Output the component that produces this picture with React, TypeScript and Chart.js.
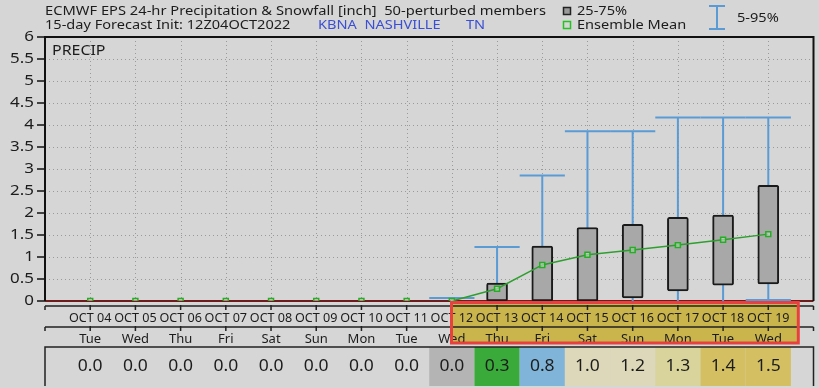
import React, { useEffect, useRef } from "react";
import { Chart, registerables } from "chart.js";

Chart.register(...registerables);

const dateLabels = ["OCT 04", "OCT 05", "OCT 06", "OCT 07", "OCT 08", "OCT 09", "OCT 10", "OCT 11", "OCT 12", "OCT 13", "OCT 14", "OCT 15", "OCT 16", "OCT 17", "OCT 18", "OCT 19"];
const dayLabels = ["Tue", "Wed", "Thu", "Fri", "Sat", "Sun", "Mon", "Tue", "Wed", "Thu", "Fri", "Sat", "Sun", "Mon", "Tue", "Wed"];
const meanValues = [0, 0, 0, 0, 0, 0, 0, 0, 0, 0.28, 0.82, 1.05, 1.16, 1.27, 1.39, 1.52];
const p25Values: (number | null)[] = [null, null, null, null, null, null, null, null, null, 0, 0, 0, 0.07, 0.23, 0.36, 0.39];
const p75Values: (number | null)[] = [null, null, null, null, null, null, null, null, null, 0.41, 1.25, 1.67, 1.74, 1.9, 1.95, 2.63];
const p5Values: (number | null)[] = [null, null, null, null, null, null, null, null, 0, 0, 0, 0, 0, 0, 0, 0.02];
const p95Values: (number | null)[] = [null, null, null, null, null, null, null, null, 0.07, 1.23, 2.85, 3.86, 3.86, 4.17, 4.17, 4.17];
const tableValues = ["0.0", "0.0", "0.0", "0.0", "0.0", "0.0", "0.0", "0.0", "0.0", "0.3", "0.8", "1.0", "1.2", "1.3", "1.4", "1.5"];
const yTickValues = [0, 0.5, 1, 1.5, 2, 2.5, 3, 3.5, 4, 4.5, 5, 5.5, 6];

const cellColors: (string | null)[] = [null, null, null, null, null, null, null, null, "#b4b4b4", "#3aab3a", "#80b4d8", "#dcd8b9", "#dcd8b9", "#d8d49b", "#d4c062", "#d4c062"];

const FONT = "'Noto Sans', 'DejaVu Sans', sans-serif";
const BG = "#d6d6d6";
const TXT = "#1c1c1c";
const BLUE = "#5b9bd5";
const GREEN = "#2e9e2e";

function drawText(ctx: CanvasRenderingContext2D, text: string, x: number, y: number, size: number, align: CanvasTextAlign, sx: number, color: string) {
  ctx.save();
  ctx.translate(x, y);
  ctx.scale(sx, 1);
  ctx.font = `${size}px ${FONT}`;
  ctx.fillStyle = color;
  ctx.textAlign = align;
  ctx.textBaseline = "middle";
  ctx.fillText(text, 0, 0);
  ctx.restore();
}

export default function App() {
  const ref = useRef<HTMLCanvasElement | null>(null);
  useEffect(() => {
    const canvas = ref.current;
    if (!canvas) return;

    const bgPlugin = {
      id: "bgAndGrid",
      beforeDraw(chart: any) {
        const { ctx, chartArea: a, scales } = chart;
        const xs = scales.x;
        const ys = scales.y;
        ctx.save();
        ctx.fillStyle = BG;
        ctx.fillRect(0, 0, chart.width, chart.height);
        // dotted grid
        ctx.strokeStyle = "#9a9a9a";
        ctx.lineWidth = 1;
        ctx.setLineDash([1, 3]);
        yTickValues.forEach((v) => {
          if (v === 0 || v === 6) return;
          const y = Math.round(ys.getPixelForValue(v)) + 0.5;
          ctx.beginPath();
          ctx.moveTo(a.left, y);
          ctx.lineTo(a.right, y);
          ctx.stroke();
        });
        dateLabels.forEach((_, i) => {
          const x = Math.round(xs.getPixelForValue(i)) + 0.5;
          ctx.beginPath();
          ctx.moveTo(x, a.top);
          ctx.lineTo(x, a.bottom);
          ctx.stroke();
        });
        ctx.setLineDash([]);
        // y ticks & labels
        ctx.strokeStyle = "#111";
        ctx.lineWidth = 1.5;
        yTickValues.forEach((v) => {
          const y = ys.getPixelForValue(v);
          ctx.beginPath();
          ctx.moveTo(a.left - 8, y);
          ctx.lineTo(a.left, y);
          ctx.stroke();
          drawText(ctx, String(v), a.left - 11, y, 15, "right", 1.13, TXT);
        });
        drawText(ctx, "PRECIP", a.left + 7, a.top + 14, 13.5, "left", 1.18, TXT);
        // zero line
        ctx.strokeStyle = "#6e1c1c";
        ctx.lineWidth = 2;
        ctx.beginPath();
        ctx.moveTo(a.left, ys.getPixelForValue(0));
        ctx.lineTo(a.right, ys.getPixelForValue(0));
        ctx.stroke();
        ctx.restore();
      },
      beforeDatasetsDraw(chart: any) {
        const { ctx, scales } = chart;
        const xs = scales.x;
        const ys = scales.y;
        ctx.save();
        ctx.strokeStyle = BLUE;
        ctx.lineWidth = 2;
        const half = (xs.getPixelForValue(1) - xs.getPixelForValue(0)) / 2;
        dateLabels.forEach((_, i) => {
          const lo = p5Values[i];
          const hi = p95Values[i];
          if (lo == null || hi == null) return;
          const x = xs.getPixelForValue(i);
          const yl = ys.getPixelForValue(lo);
          const yh = ys.getPixelForValue(hi);
          ctx.beginPath();
          ctx.moveTo(x, yl);
          ctx.lineTo(x, yh);
          ctx.moveTo(x - half, yh);
          ctx.lineTo(x + half, yh);
          if (lo > 0) {
            ctx.moveTo(x - half, yl);
            ctx.lineTo(x + half, yl);
          }
          ctx.stroke();
        });
        ctx.restore();
      },
      afterDatasetsDraw(chart: any) {
        const { ctx, chartArea: a } = chart;
        ctx.save();
        ctx.strokeStyle = "#111";
        ctx.lineWidth = 2;
        ctx.beginPath();
        ctx.moveTo(a.left, a.bottom);
        ctx.lineTo(a.left, a.top);
        ctx.lineTo(a.right, a.top);
        ctx.lineTo(a.right, a.bottom);
        ctx.stroke();
        ctx.restore();
      },
      afterDraw(chart: any) {
        const { ctx, chartArea: a, scales } = chart;
        const xs = scales.x;
        const half = (xs.getPixelForValue(1) - xs.getPixelForValue(0)) / 2;
        ctx.save();
        // Title
        drawText(ctx, "ECMWF EPS 24-hr Precipitation & Snowfall [inch]  50-perturbed members", 45, 11, 13, "left", 1.13, TXT);
        drawText(ctx, "15-day Forecast Init: 12Z04OCT2022", 45, 25, 13, "left", 1.12, TXT);
        drawText(ctx, "KBNA  NASHVILLE", 318, 25, 13, "left", 1.12, "#3b4fd4");
        drawText(ctx, "TN", 466, 25, 13, "left", 1.12, "#3b4fd4");
        // legend
        drawText(ctx, "25-75%", 577, 11, 13, "left", 1.12, TXT);
        drawText(ctx, "Ensemble Mean", 577, 25, 13, "left", 1.12, TXT);
        drawText(ctx, "5-95%", 737, 18, 13, "left", 1.12, TXT);
        ctx.fillStyle = "#9a9a9a";
        ctx.fillRect(563.5, 7.5, 7, 7);
        ctx.strokeStyle = "#222";
        ctx.lineWidth = 1.5;
        ctx.strokeRect(563.5, 7.5, 7, 7);
        ctx.strokeStyle = "#22c422";
        ctx.strokeRect(563.5, 21.5, 7, 7);
        ctx.strokeStyle = BLUE;
        ctx.lineWidth = 2;
        ctx.beginPath();
        ctx.moveTo(709, 6);
        ctx.lineTo(725, 6);
        ctx.moveTo(717, 6);
        ctx.lineTo(717, 29);
        ctx.moveTo(709, 29);
        ctx.lineTo(725, 29);
        ctx.stroke();

        // highlight fill (behind text)
        ctx.fillStyle = "#cab54d";
        ctx.fillRect(451.5, 303, 346.8, 40);

        // tick rows
        const rows = [306, 327];
        ctx.strokeStyle = "#222";
        ctx.lineWidth = 1.5;
        rows.forEach((ry) => {
          ctx.beginPath();
          ctx.moveTo(a.left, ry);
          ctx.lineTo(a.right, ry);
          ctx.moveTo(a.left, ry);
          ctx.lineTo(a.left, ry + 4);
          ctx.moveTo(a.right, ry);
          ctx.lineTo(a.right, ry + 4);
          dateLabels.forEach((_, i) => {
            const x = xs.getPixelForValue(i);
            ctx.moveTo(x, ry - 1);
            ctx.lineTo(x, ry + 4);
          });
          ctx.stroke();
        });
        dateLabels.forEach((d, i) => {
          drawText(ctx, d, xs.getPixelForValue(i), 318, 12.6, "center", 1, TXT);
        });
        dayLabels.forEach((d, i) => {
          drawText(ctx, d, xs.getPixelForValue(i), 339, 13, "center", 1, TXT);
        });

        // red border
        ctx.strokeStyle = "#e8403f";
        ctx.lineWidth = 3;
        ctx.strokeRect(451.5, 302.5, 346.8, 40.5);

        // values table
        const top = 347;
        const bot = 386;
        cellColors.forEach((c, i) => {
          if (!c) return;
          const x = xs.getPixelForValue(i);
          ctx.fillStyle = c;
          ctx.fillRect(x - half, top, half * 2, bot - top);
        });
        ctx.strokeStyle = "#222";
        ctx.lineWidth = 1.5;
        ctx.beginPath();
        ctx.moveTo(a.left, bot);
        ctx.lineTo(a.left, top);
        ctx.lineTo(a.right, top);
        ctx.lineTo(a.right, bot);
        ctx.stroke();
        tableValues.forEach((v, i) => {
          drawText(ctx, v, xs.getPixelForValue(i), 366, 17, "center", 1.03, TXT);
        });
        ctx.restore();
      },
    };

    const chart = new Chart(canvas, {
      type: "bar",
      data: {
        datasets: [
          {
            type: "line",
            label: "Ensemble Mean",
            data: meanValues.map((v, i) => ({ x: i, y: v })),
            borderColor: GREEN,
            borderWidth: 1.5,
            pointStyle: "rect",
            pointRadius: 3.5,
            pointBackgroundColor: "rgba(214,214,214,0.6)",
            pointBorderColor: "#22b022",
            pointBorderWidth: 1.5,
            order: 0,
            segment: {
              borderColor: (c: any) => (c.p0.parsed.y === 0 && c.p1.parsed.y === 0 ? "rgba(0,0,0,0)" : GREEN),
            },
          } as any,
          {
            type: "bar",
            label: "25-75%",
            data: p25Values
              .map((v, i) => (v == null || p75Values[i] == null ? null : { x: i, y: [v, p75Values[i] as number] }))
              .filter((d) => d !== null) as any,
            backgroundColor: "#a8a8a8",
            borderColor: "#1a1a1a",
            borderWidth: 2,
            borderSkipped: false,
            borderRadius: 2,
            barThickness: 21,
            order: 1,
          } as any,
        ],
      },
      options: {
        animation: false,
        responsive: false,
        devicePixelRatio: 1,
        layout: { padding: { left: 45, top: 37, right: 3, bottom: 87 } },
        plugins: { legend: { display: false }, tooltip: { enabled: false } },
        scales: {
          x: { type: "linear", min: -1, max: 16, offset: false, display: false },
          y: { type: "linear", min: 0, max: 6, display: false },
        },
      },
      plugins: [bgPlugin],
    });
    return () => chart.destroy();
  }, []);

  return (
    <div style={{ position: "fixed", left: 0, top: 0, width: 819, height: 388, background: BG }}>
      <canvas ref={ref} width={819} height={388} style={{ display: "block" }} />
    </div>
  );
}
